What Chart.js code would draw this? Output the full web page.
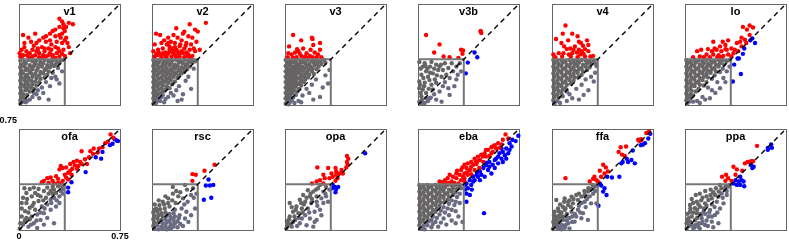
<!DOCTYPE html>
<html><head><meta charset="utf-8">
<script src="https://cdn.jsdelivr.net/npm/chart.js@4.4.1/dist/chart.umd.min.js"></script>
<style>
html,body{margin:0;padding:0;background:#fff;width:789px;height:241px;overflow:hidden;}
#wrap{position:relative;width:789px;height:241px;}
canvas{position:absolute;}
.ttl{position:absolute;width:101px;text-align:center;font:bold 11px "Liberation Sans",Arial,sans-serif;line-height:13px;color:#000;}
</style></head><body><div id="wrap"></div>
<script>
// ---- data ----
const AX_MAX = 0.75;
const THRESH = 0.34;
const X_TICK_VALUES = [0, 0.75];
const X_TICK_LABELS = ['0', '0.75'];
const Y_TICK_VALUES = [0.75];
const Y_TICK_LABELS = ['0.75'];
const TICK_PANEL = 'ofa';
const PANEL_NAMES = ['v1','v2','v3','v3b','v4','lo','ofa','rsc','opa','eba','ffa','ppa'];

const v1Red = [[.30,.64],[.32,.62],[.37,.61],[.40,.60],[.30,.58],[.33,.57],[.34,.55],[.32,.53],[.30,.52],[.25,.55],[.23,.53],[.27,.51],[.20,.51],[.18,.50],[.15,.48],[.12,.53],[.07,.50],[.03,.52],[.04,.46],[.09,.47],[.13,.46],[.17,.43],[.20,.47],[.23,.48],[.24,.45],[.22,.42],[.27,.43],[.32,.46],[.34,.48],[.35,.50],[.37,.43],[.38,.385],[.33,.41],[.30,.40],[.28,.385],[.25,.37],[.23,.385],[.19,.40],[.15,.385],[.13,.40],[.10,.41],[.08,.385],[.055,.40],[.03,.37],[.02,.41],[.01,.36],[.07,.36],[.10,.36],[.15,.355],[.20,.36],[.25,.355],[.30,.36],[.34,.365],[.04,.43],[.14,.42],[.28,.47],[.18,.37],[.005,.385],[.08,.35],[.12,.37],[.17,.35],[.22,.37],[.27,.35],[.32,.38],[.06,.37],[.14,.40],[.19,.42],[.24,.41],[.29,.42],[.11,.44],[.02,.35],[.36,.46],[.31,.50],[.33,.60],[.35,.58],[.27,.56]];
const v1Blue = [];
const v1Gray = [[.01,.33],[.04,.32],[.07,.335],[.10,.325],[.13,.33],[.16,.32],[.19,.335],[.22,.325],[.25,.33],[.28,.32],[.31,.33],[.33,.335],[.02,.30],[.05,.31],[.08,.295],[.12,.305],[.15,.30],[.18,.31],[.21,.295],[.24,.305],[.27,.30],[.30,.31],[.01,.28],[.04,.285],[.06,.27],[.09,.28],[.11,.29],[.14,.275],[.17,.285],[.20,.27],[.23,.28],[.26,.29],[.29,.275],[.02,.255],[.05,.26],[.08,.25],[.10,.265],[.13,.255],[.16,.245],[.19,.26],[.22,.25],[.25,.24],[.01,.23],[.03,.235],[.06,.225],[.09,.235],[.12,.23],[.15,.22],[.18,.235],[.21,.225],[.02,.205],[.05,.21],[.07,.20],[.10,.21],[.13,.20],[.16,.195],[.19,.205],[.01,.18],[.04,.185],[.06,.175],[.09,.18],[.12,.175],[.15,.17],[.02,.155],[.05,.16],[.07,.15],[.10,.155],[.13,.145],[.01,.13],[.04,.135],[.06,.125],[.09,.13],[.11,.12],[.02,.105],[.05,.11],[.08,.10],[.01,.085],[.03,.08],[.06,.075],[.02,.06],[.04,.05],[.01,.035],[.03,.025],[.01,.01],[.27,.21],[.30,.16],[.28,.19],[.23,.14],[.18,.09],[.22,.04],[.15,.05],[.13,.08],[.10,.06],[.08,.04],[.17,.13],[.32,.25],[.20,.17],[.24,.20],[.14,.11],[.11,.09],[.06,.03],[.05,.02]];

const v2Red = [[.40,.61],[.28,.60],[.18,.57],[.24,.545],[.32,.56],[.34,.545],[.16,.52],[.23,.53],[.03,.53],[.06,.52],[.12,.50],[.14,.47],[.09,.48],[.19,.50],[.22,.48],[.27,.51],[.30,.50],[.33,.47],[.29,.45],[.255,.46],[.02,.45],[.07,.46],[.11,.45],[.17,.46],[.205,.435],[.24,.42],[.28,.41],[.32,.40],[.355,.41],[.01,.40],[.045,.41],[.08,.42],[.13,.41],[.155,.42],[.19,.40],[.23,.385],[.27,.375],[.30,.365],[.02,.36],[.06,.375],[.09,.375],[.12,.385],[.145,.36],[.17,.375],[.205,.36],[.24,.355],[.28,.355],[.18,.355],[.105,.355],[.07,.355],[.155,.39],[.18,.41],[.13,.435],[.08,.385],[.22,.40],[.255,.39],[.04,.37],[.11,.37],[.16,.40],[.20,.38],[.26,.365],[.14,.40],[.10,.39],[.05,.39],[.17,.43],[.21,.45],[.12,.46],[.03,.38],[.25,.44],[.31,.42]];
const v2Blue = [];
const v2Gray = [[.01,.335],[.03,.33],[.06,.335],[.09,.325],[.12,.335],[.15,.33],[.18,.335],[.21,.325],[.24,.335],[.27,.33],[.30,.335],[.32,.325],[.02,.31],[.05,.315],[.08,.305],[.11,.315],[.14,.31],[.17,.30],[.20,.315],[.23,.31],[.26,.305],[.29,.315],[.01,.29],[.04,.295],[.07,.285],[.10,.29],[.13,.295],[.16,.285],[.19,.29],[.22,.28],[.25,.29],[.28,.285],[.02,.27],[.05,.275],[.08,.265],[.11,.27],[.14,.265],[.17,.27],[.20,.26],[.23,.27],[.26,.265],[.01,.25],[.03,.255],[.06,.245],[.09,.25],[.12,.245],[.15,.25],[.18,.24],[.21,.25],[.24,.245],[.02,.23],[.05,.235],[.08,.225],[.11,.23],[.14,.225],[.17,.23],[.20,.22],[.22,.235],[.01,.21],[.04,.215],[.07,.205],[.10,.21],[.13,.205],[.16,.21],[.19,.20],[.02,.19],[.05,.195],[.08,.185],[.11,.19],[.14,.185],[.17,.175],[.01,.17],[.03,.175],[.06,.165],[.09,.17],[.12,.165],[.15,.155],[.02,.15],[.05,.155],[.08,.145],[.11,.14],[.13,.125],[.01,.13],[.04,.135],[.07,.125],[.10,.115],[.02,.11],[.05,.115],[.08,.10],[.01,.09],[.03,.095],[.06,.085],[.08,.075],[.02,.07],[.04,.075],[.07,.06],[.01,.05],[.03,.055],[.05,.045],[.02,.03],[.04,.035],[.01,.01],[.03,.015],[.27,.21],[.29,.12],[.22,.04],[.19,.03],[.16,.07],[.14,.09],[.25,.18],[.20,.14],[.12,.06],[.18,.11],[.31,.27],[.09,.02],[.23,.08],[.06,.03],[.10,.045]];

const v3Red = [[.06,.52],[.12,.48],[.20,.50],[.205,.49],[.03,.435],[.09,.415],[.10,.40],[.135,.42],[.16,.385],[.19,.41],[.21,.445],[.26,.46],[.22,.39],[.26,.41],[.025,.385],[.05,.375],[.075,.39],[.12,.365],[.15,.36],[.185,.365],[.245,.375],[.27,.355],[.02,.355],[.085,.355],[.235,.355],[.11,.38],[.17,.35],[.205,.355],[.06,.35],[.14,.35]];
const v3Blue = [];
const v3Gray = [[.005,.335],[.025,.33],[.05,.335],[.08,.33],[.11,.335],[.14,.325],[.17,.335],[.20,.33],[.23,.335],[.26,.325],[.29,.335],[.015,.315],[.04,.31],[.065,.315],[.09,.305],[.12,.315],[.15,.31],[.18,.305],[.21,.315],[.24,.31],[.27,.305],[.30,.315],[.005,.29],[.03,.295],[.055,.285],[.08,.29],[.105,.295],[.13,.285],[.16,.29],[.19,.285],[.22,.295],[.25,.285],[.015,.27],[.04,.265],[.065,.27],[.09,.275],[.115,.265],[.145,.27],[.175,.265],[.205,.27],[.235,.265],[.005,.25],[.03,.245],[.055,.25],[.08,.255],[.105,.245],[.135,.25],[.165,.245],[.20,.25],[.015,.23],[.04,.225],[.065,.23],[.09,.235],[.12,.225],[.15,.23],[.18,.225],[.215,.23],[.005,.21],[.03,.205],[.055,.21],[.08,.215],[.11,.205],[.14,.21],[.17,.205],[.015,.19],[.04,.185],[.065,.19],[.09,.195],[.12,.185],[.15,.19],[.005,.17],[.03,.165],[.055,.17],[.08,.175],[.11,.165],[.14,.17],[.015,.15],[.04,.145],[.065,.15],[.09,.155],[.12,.145],[.005,.13],[.03,.125],[.055,.13],[.08,.135],[.105,.12],[.015,.11],[.04,.105],[.065,.11],[.09,.10],[.005,.09],[.03,.085],[.055,.09],[.08,.075],[.015,.07],[.04,.065],[.06,.055],[.005,.05],[.03,.045],[.05,.035],[.015,.03],[.035,.02],[.005,.01],[.025,.005],[.28,.13],[.32,.16],[.33,.26],[.26,.06],[.21,.04],[.18,.09],[.23,.19],[.16,.12],[.13,.07],[.10,.03],[.20,.15],[.30,.22],[.12,.02],[.07,.015]];

const v3bRed = [[.06,.52],[.16,.45],[.12,.39],[.19,.36],[.235,.355],[.30,.35],[.32,.41],[.335,.405],[.33,.38],[.465,.55],[.47,.535],[.465,.545]];
const v3bBlue = [[.42,.39],[.44,.355],[.37,.315],[.355,.235]];
const v3bGray = [[.01,.32],[.05,.31],[.09,.285],[.135,.30],[.16,.285],[.185,.26],[.225,.275],[.26,.25],[.295,.225],[.32,.25],[.285,.19],[.235,.20],[.21,.225],[.175,.21],[.11,.235],[.06,.25],[.025,.225],[.01,.175],[.05,.165],[.085,.185],[.135,.165],[.185,.14],[.225,.125],[.11,.115],[.06,.09],[.025,.065],[.085,.05],[.01,.025],[.05,.015],[.135,.04],[.175,.025],[.235,.075],[.01,.125],[.15,.26],[.20,.31],[.10,.32],[.285,.285],[.25,.31],[.31,.31],[.035,.285],[.075,.21],[.125,.19],[.16,.10],[.035,.115],[.10,.15],[.025,.015],[.075,.03],[.04,.20],[.02,.27],[.07,.27],[.12,.27],[.17,.30],[.045,.14],[.08,.12],[.02,.09],[.12,.08],[.06,.05],[.03,.04],[.14,.22],[.09,.24],[.20,.17],[.27,.14],[.015,.15],[.055,.29],[.095,.055]];

const v4Red = [[.10,.59],[.08,.53],[.15,.53],[.19,.51],[.03,.49],[.07,.46],[.12,.48],[.20,.47],[.215,.46],[.26,.48],[.27,.445],[.09,.435],[.11,.415],[.135,.42],[.16,.41],[.17,.435],[.20,.41],[.22,.40],[.245,.415],[.27,.40],[.01,.375],[.05,.385],[.085,.385],[.15,.385],[.185,.39],[.21,.375],[.235,.38],[.285,.36],[.305,.365],[.125,.375],[.025,.355],[.075,.36],[.245,.36],[.14,.36],[.19,.355],[.23,.44]];
const v4Blue = [];
const v4Gray = [[.01,.335],[.04,.33],[.07,.335],[.10,.325],[.13,.335],[.16,.33],[.19,.325],[.22,.335],[.25,.33],[.28,.325],[.31,.33],[.02,.31],[.05,.305],[.08,.315],[.11,.30],[.14,.31],[.17,.305],[.20,.315],[.23,.30],[.26,.31],[.29,.305],[.32,.31],[.01,.285],[.04,.28],[.07,.29],[.10,.275],[.13,.285],[.16,.28],[.19,.29],[.22,.275],[.25,.285],[.28,.28],[.02,.26],[.05,.255],[.08,.265],[.11,.25],[.14,.26],[.17,.255],[.20,.265],[.23,.25],[.26,.26],[.01,.235],[.04,.23],[.07,.24],[.10,.225],[.13,.235],[.16,.23],[.19,.24],[.22,.225],[.02,.21],[.05,.205],[.08,.215],[.11,.20],[.14,.21],[.17,.205],[.20,.21],[.01,.185],[.04,.18],[.07,.19],[.10,.175],[.13,.185],[.16,.18],[.02,.16],[.05,.155],[.08,.165],[.11,.15],[.14,.16],[.01,.135],[.04,.13],[.07,.14],[.10,.125],[.02,.11],[.05,.105],[.08,.115],[.11,.10],[.01,.085],[.04,.08],[.07,.09],[.02,.06],[.05,.055],[.08,.065],[.01,.035],[.04,.03],[.02,.01],[.06,.015],[.25,.19],[.31,.175],[.32,.24],[.27,.11],[.235,.075],[.20,.04],[.15,.05],[.11,.03],[.29,.21],[.18,.12],[.22,.15],[.13,.08],[.33,.29]];

const loRed = [[.43,.58],[.48,.59],[.46,.56],[.505,.575],[.48,.52],[.42,.50],[.21,.47],[.28,.47],[.32,.48],[.30,.445],[.26,.435],[.22,.42],[.09,.40],[.12,.41],[.17,.415],[.20,.40],[.235,.41],[.27,.40],[.31,.41],[.345,.42],[.385,.46],[.41,.47],[.445,.485],[.37,.41],[.395,.40],[.16,.375],[.21,.375],[.25,.37],[.285,.365],[.32,.375],[.345,.36],[.11,.36],[.06,.355],[.185,.355],[.30,.415],[.42,.435],[.455,.46],[.36,.385],[.24,.355],[.14,.355],[.27,.355]];
const loBlue = [[.50,.495],[.52,.46],[.485,.48],[.44,.42],[.43,.38],[.39,.345],[.40,.345],[.415,.23],[.355,.175],[.365,.30]];
const loGray = [[.01,.335],[.04,.325],[.07,.335],[.10,.33],[.13,.325],[.16,.335],[.19,.33],[.22,.325],[.25,.335],[.28,.33],[.31,.325],[.335,.335],[.02,.31],[.05,.305],[.08,.315],[.11,.30],[.14,.31],[.17,.305],[.20,.315],[.23,.30],[.26,.31],[.29,.30],[.01,.285],[.04,.28],[.07,.29],[.10,.275],[.13,.285],[.16,.28],[.19,.29],[.22,.275],[.25,.285],[.28,.27],[.02,.26],[.05,.255],[.08,.265],[.11,.25],[.14,.26],[.17,.255],[.20,.265],[.23,.25],[.26,.245],[.01,.235],[.04,.23],[.07,.24],[.10,.225],[.13,.235],[.16,.23],[.19,.24],[.22,.22],[.02,.21],[.05,.205],[.08,.215],[.11,.20],[.14,.21],[.17,.205],[.20,.195],[.01,.185],[.04,.18],[.07,.19],[.10,.175],[.13,.185],[.16,.17],[.02,.16],[.05,.155],[.08,.165],[.11,.15],[.14,.145],[.01,.135],[.04,.13],[.07,.14],[.10,.12],[.02,.11],[.05,.105],[.08,.10],[.01,.085],[.04,.08],[.06,.07],[.02,.06],[.04,.05],[.01,.035],[.03,.025],[.015,.01],[.26,.125],[.225,.09],[.185,.05],[.15,.04],[.11,.015],[.06,.025],[.285,.20],[.31,.25],[.33,.285],[.24,.17],[.20,.11],[.17,.13],[.13,.06],[.09,.03],[.30,.17]];

const ofaRed = [[.68,.71],[.70,.685],[.66,.655],[.62,.615],[.595,.605],[.555,.605],[.53,.585],[.55,.565],[.465,.585],[.52,.54],[.49,.525],[.455,.505],[.43,.515],[.405,.505],[.38,.49],[.415,.48],[.44,.475],[.465,.49],[.35,.465],[.325,.46],[.31,.475],[.30,.45],[.38,.44],[.395,.455],[.365,.425],[.34,.41],[.35,.39],[.275,.40],[.29,.38],[.235,.39],[.21,.385],[.185,.365],[.25,.365],[.29,.35],[.325,.365],[.17,.355],[.22,.35],[.26,.345],[.31,.345],[.365,.375],[.39,.41],[.43,.455],[.505,.49],[.585,.575],[.64,.645]];
const ofaBlue = [[.725,.665],[.71,.675],[.695,.64],[.675,.63],[.62,.58],[.61,.53],[.57,.54],[.495,.43],[.39,.355],[.365,.315],[.365,.28],[.735,.66]];
const ofaGray = [[.21,.315],[.25,.32],[.29,.325],[.325,.315],[.31,.29],[.275,.275],[.235,.29],[.185,.29],[.16,.25],[.12,.275],[.095,.25],[.055,.275],[.03,.24],[.02,.20],[.055,.20],[.11,.20],[.145,.215],[.20,.24],[.235,.225],[.26,.24],[.30,.25],[.325,.27],[.21,.19],[.17,.175],[.12,.15],[.08,.165],[.045,.14],[.02,.10],[.055,.09],[.095,.10],[.135,.115],[.185,.125],[.235,.15],[.275,.175],[.30,.20],[.16,.075],[.21,.09],[.26,.05],[.11,.05],[.03,.04],[.07,.025],[.005,.01],[.135,.015],[.185,.04],[.045,.075],[.335,.335],[.30,.335],[.11,.315],[.145,.305],[.08,.305],[.04,.31],[.07,.13],[.10,.18],[.14,.26],[.18,.22],[.22,.27],[.26,.30],[.02,.16],[.06,.23],[.09,.04],[.13,.07],[.16,.13],[.24,.20],[.28,.22],[.32,.30],[.19,.16],[.04,.06],[.08,.08],[.01,.05],[.25,.27]];

const rscRed = [[.465,.485],[.39,.44],[.30,.415],[.325,.41],[.30,.365]];
const rscBlue = [[.42,.375],[.40,.33],[.43,.33],[.455,.335],[.44,.24],[.385,.225]];
const rscGray = [[.245,.335],[.305,.31],[.33,.27],[.29,.26],[.265,.21],[.23,.235],[.195,.25],[.155,.27],[.12,.235],[.08,.21],[.175,.20],[.22,.16],[.255,.135],[.29,.11],[.245,.085],[.205,.11],[.17,.15],[.13,.175],[.095,.16],[.055,.185],[.02,.15],[.155,.32],[.01,.13],[.04,.135],[.07,.125],[.10,.13],[.13,.12],[.16,.125],[.02,.105],[.05,.11],[.08,.10],[.11,.105],[.14,.095],[.17,.10],[.20,.09],[.01,.08],[.04,.085],[.07,.075],[.10,.08],[.13,.07],[.16,.075],[.19,.065],[.02,.055],[.05,.06],[.08,.05],[.11,.055],[.14,.045],[.17,.05],[.21,.045],[.01,.03],[.04,.035],[.07,.025],[.10,.03],[.13,.02],[.16,.025],[.19,.02],[.02,.01],[.05,.005],[.08,.01],[.11,.005],[.14,.008],[.03,.16],[.06,.155],[.09,.19],[.12,.20],[.05,.22],[.02,.19],[.10,.25],[.18,.29],[.21,.28],[.26,.30],[.31,.24],[.24,.19],[.27,.06],[.23,.03],[.32,.16],[.15,.22]];

const opaRed = [[.46,.55],[.47,.53],[.46,.505],[.465,.485],[.455,.465],[.24,.465],[.32,.46],[.375,.46],[.42,.445],[.43,.42],[.345,.42],[.355,.395],[.285,.41],[.295,.385],[.33,.385],[.38,.41],[.39,.385],[.375,.365],[.26,.37],[.235,.36],[.285,.345],[.38,.435],[.405,.42],[.20,.345]];
const opaBlue = [[.595,.57],[.355,.335],[.37,.32],[.38,.305],[.375,.28],[.395,.32],[.35,.31]];
const opaGray = [[.305,.32],[.33,.30],[.285,.285],[.245,.31],[.21,.285],[.17,.295],[.135,.26],[.185,.25],[.235,.25],[.27,.235],[.305,.25],[.285,.20],[.235,.21],[.195,.20],[.15,.21],[.11,.225],[.085,.175],[.125,.16],[.17,.16],[.22,.135],[.26,.15],[.035,.20],[.06,.135],[.10,.125],[.15,.11],[.185,.085],[.235,.075],[.035,.10],[.075,.075],[.11,.05],[.025,.05],[.05,.025],[.01,.01],[.16,.035],[.21,.025],[.125,.085],[.32,.21],[.26,.335],[.30,.27],[.20,.23],[.14,.19],[.08,.15],[.05,.17],[.10,.09],[.13,.13],[.18,.13],[.06,.06],[.09,.03],[.03,.08],[.02,.03],[.07,.10],[.24,.18],[.16,.24],[.12,.20],[.27,.11],[.22,.06],[.045,.045],[.015,.065],[.19,.27],[.23,.30]];

const ebaRed = [[.65,.71],[.67,.68],[.63,.67],[.595,.645],[.57,.63],[.605,.61],[.545,.615],[.52,.595],[.555,.58],[.495,.57],[.47,.56],[.505,.545],[.53,.55],[.445,.545],[.42,.53],[.46,.52],[.485,.505],[.395,.505],[.37,.495],[.41,.485],[.435,.49],[.345,.485],[.36,.46],[.385,.445],[.42,.445],[.455,.46],[.32,.445],[.285,.42],[.31,.41],[.345,.42],[.37,.41],[.395,.415],[.26,.395],[.235,.41],[.22,.385],[.285,.385],[.32,.37],[.345,.385],[.20,.37],[.16,.36],[.25,.36],[.30,.345],[.345,.36],[.43,.505],[.505,.595],[.58,.605],[.62,.635],[.555,.62],[.48,.545],[.395,.47],[.335,.395],[.21,.345],[.545,.57],[.27,.35],[.23,.35],[.18,.355],[.29,.44],[.33,.465],[.365,.43],[.44,.51]];
const ebaBlue = [[.725,.66],[.68,.645],[.695,.62],[.655,.605],[.68,.595],[.63,.58],[.645,.555],[.605,.57],[.595,.545],[.62,.53],[.655,.53],[.57,.52],[.53,.505],[.555,.485],[.595,.495],[.505,.48],[.485,.46],[.52,.445],[.545,.42],[.46,.435],[.435,.41],[.47,.41],[.495,.395],[.41,.395],[.385,.37],[.42,.37],[.46,.37],[.36,.345],[.395,.335],[.37,.31],[.36,.27],[.385,.26],[.36,.21],[.49,.125],[.67,.57],[.62,.605],[.58,.53],[.53,.47],[.445,.395],[.41,.36],[.35,.335],[.63,.505],[.57,.46],[.70,.67],[.745,.70],[.40,.30],[.35,.30],[.44,.43],[.51,.50]];
const ebaGray = [[.01,.335],[.04,.33],[.07,.335],[.10,.325],[.13,.335],[.16,.33],[.19,.325],[.22,.335],[.25,.33],[.28,.335],[.31,.325],[.02,.31],[.05,.305],[.08,.315],[.11,.30],[.14,.31],[.17,.305],[.20,.315],[.23,.30],[.26,.31],[.29,.305],[.32,.31],[.01,.285],[.04,.28],[.07,.29],[.10,.275],[.13,.285],[.16,.28],[.19,.29],[.22,.275],[.25,.285],[.28,.28],[.31,.27],[.02,.26],[.05,.255],[.08,.265],[.11,.25],[.14,.26],[.17,.255],[.20,.265],[.23,.25],[.26,.26],[.29,.245],[.01,.235],[.04,.23],[.07,.24],[.10,.225],[.13,.235],[.16,.23],[.19,.24],[.22,.225],[.25,.22],[.28,.21],[.02,.21],[.05,.205],[.08,.215],[.11,.20],[.14,.21],[.17,.205],[.20,.21],[.23,.195],[.27,.185],[.31,.20],[.01,.185],[.04,.18],[.07,.19],[.10,.175],[.13,.185],[.16,.18],[.19,.17],[.22,.16],[.25,.15],[.02,.16],[.05,.155],[.08,.165],[.11,.15],[.14,.16],[.17,.145],[.20,.13],[.28,.14],[.01,.135],[.04,.13],[.07,.14],[.10,.125],[.13,.135],[.16,.115],[.23,.11],[.02,.11],[.05,.105],[.08,.115],[.11,.10],[.14,.09],[.19,.085],[.30,.10],[.01,.085],[.04,.08],[.07,.09],[.10,.075],[.13,.06],[.17,.055],[.25,.07],[.02,.06],[.05,.055],[.08,.065],[.11,.045],[.21,.04],[.28,.05],[.01,.035],[.04,.03],[.07,.035],[.10,.02],[.15,.025],[.02,.01],[.05,.005],[.33,.06]];

const ffaRed = [[.72,.73],[.70,.72],[.66,.675],[.65,.66],[.665,.67],[.51,.615],[.55,.62],[.495,.58],[.52,.56],[.54,.55],[.38,.485],[.40,.465],[.355,.44],[.39,.42],[.315,.395],[.305,.38],[.33,.37],[.34,.36],[.10,.385],[.365,.395],[.28,.36],[.415,.435],[.64,.67]];
const ffaBlue = [[.73,.715],[.715,.68],[.69,.645],[.66,.63],[.675,.635],[.60,.59],[.555,.53],[.525,.505],[.565,.505],[.59,.52],[.615,.495],[.515,.495],[.41,.395],[.445,.39],[.50,.395],[.365,.33],[.39,.31],[.38,.285],[.405,.26],[.345,.18],[.355,.345]];
const ffaGray = [[.317,.322],[.29,.305],[.267,.285],[.305,.27],[.243,.26],[.218,.248],[.18,.26],[.145,.248],[.193,.223],[.243,.21],[.29,.198],[.155,.198],[.12,.185],[.08,.173],[.045,.16],[.095,.15],[.145,.135],[.193,.15],[.23,.125],[.02,.135],[.057,.11],[.105,.10],[.02,.087],[.045,.062],[.082,.075],[.12,.05],[.02,.037],[.057,.025],[.095,.017],[.13,.012],[.007,.007],[.168,.062],[.267,.075],[.218,.087],[.33,.198],[.032,.223],[.094,.235],[.01,.06],[.035,.045],[.06,.05],[.075,.035],[.03,.02],[.045,.01],[.07,.005],[.10,.035],[.11,.07],[.08,.10],[.06,.085],[.04,.10],[.03,.075],[.015,.11],[.07,.13],[.05,.14],[.11,.12],[.13,.09],[.15,.10],[.17,.12],[.20,.18],[.22,.20],[.26,.23],[.28,.25],[.32,.29],[.335,.33],[.25,.17],[.21,.13],[.18,.10],[.15,.06],[.09,.21],[.13,.22],[.06,.19],[.10,.16],[.14,.17],[.30,.335],[.27,.31],[.24,.29],[.20,.27],[.16,.23],[.12,.21]];

const ppaRed = [[.535,.625],[.465,.505],[.49,.51],[.505,.51],[.36,.47],[.385,.45],[.425,.44],[.305,.41],[.275,.395],[.32,.385],[.345,.365],[.30,.365],[.375,.41],[.445,.495]];
const ppaBlue = [[.64,.635],[.615,.61],[.615,.595],[.645,.61],[.49,.485],[.51,.47],[.50,.46],[.41,.395],[.42,.37],[.40,.36],[.435,.36],[.385,.335],[.41,.335],[.44,.325],[.36,.345],[.375,.37]];
const ppaGray = [[.323,.322],[.298,.297],[.273,.272],[.31,.26],[.248,.248],[.223,.26],[.199,.235],[.174,.223],[.236,.21],[.286,.198],[.149,.198],[.112,.173],[.074,.161],[.037,.136],[.087,.124],[.137,.136],[.186,.149],[.223,.111],[.174,.099],[.124,.087],[.074,.074],[.025,.087],[.012,.05],[.05,.037],[.099,.025],[.149,.037],[.199,.062],[.248,.05],[.012,.012],[.062,.012],[.124,.05],[.037,.186],[.087,.21],[.33,.335],[.30,.32],[.27,.31],[.25,.285],[.21,.28],[.19,.26],[.16,.25],[.13,.24],[.12,.22],[.10,.19],[.06,.20],[.04,.16],[.02,.12],[.05,.10],[.06,.13],[.09,.15],[.11,.12],[.14,.16],[.16,.18],[.20,.19],[.22,.17],[.26,.16],[.24,.13],[.20,.10],[.16,.07],[.13,.06],[.10,.05],[.08,.04],[.04,.06],[.03,.03],[.07,.02],[.11,.01],[.17,.03],[.21,.02],[.28,.24],[.31,.29],[.02,.07],[.09,.09],[.12,.11],[.15,.12],[.18,.13],[.05,.23],[.08,.26],[.11,.27],[.15,.29],[.19,.30],[.23,.31],[.26,.335]];

const PANEL_DATA = {
  v1:[v1Red,v1Blue,v1Gray], v2:[v2Red,v2Blue,v2Gray], v3:[v3Red,v3Blue,v3Gray],
  v3b:[v3bRed,v3bBlue,v3bGray], v4:[v4Red,v4Blue,v4Gray], lo:[loRed,loBlue,loGray],
  ofa:[ofaRed,ofaBlue,ofaGray], rsc:[rscRed,rscBlue,rscGray], opa:[opaRed,opaBlue,opaGray],
  eba:[ebaRed,ebaBlue,ebaGray], ffa:[ffaRed,ffaBlue,ffaGray], ppa:[ppaRed,ppaBlue,ppaGray]
};

// ---- layout / style ----
const COL_LEFT = [19,152,285,418,552,685];
const ROW_TOP = [4,129];
const BOX = 101;
const PAD_L = 19, PAD_R = 12, PAD_B = 13;
const FRAME = '#666666';
const INNER = '#777777';
const RED = '#ff0000', BLUE = '#0000ff', GRAY_UP = '#676465', GRAY_DN = '#6a6a80';
const FONT = '"Liberation Sans", Arial, sans-serif';

const wrap = document.getElementById('wrap');
PANEL_NAMES.forEach((name, i) => {
  const col = i % 6, row = Math.floor(i / 6);
  const padT = row === 0 ? 4 : 14;
  const cw = PAD_L + BOX + PAD_R, ch = padT + BOX + PAD_B;
  const cv = document.createElement('canvas');
  cv.width = cw; cv.height = ch;
  cv.style.width = cw + 'px'; cv.style.height = ch + 'px';
  cv.style.left = (COL_LEFT[col] - PAD_L) + 'px';
  cv.style.top = (ROW_TOP[row] - padT) + 'px';
  wrap.appendChild(cv);

  const t = document.createElement('div');
  t.className = 'ttl'; t.textContent = name;
  t.style.left = COL_LEFT[col] + 'px';
  t.style.top = (ROW_TOP[row] + 1) + 'px';
  wrap.appendChild(t);

  const [red, blue, gray] = PANEL_DATA[name];
  const showTicks = name === TICK_PANEL;
  const tickFont = {family: FONT, size: 9, weight: 'bold'};
  const noGrid = {display: false, drawTicks: false, tickLength: 0};
  const hidden = (pos) => ({
    type: 'linear', position: pos, min: 0, max: AX_MAX,
    grid: noGrid, ticks: {display: false},
    border: {display: true, color: FRAME, width: 1},
    afterFit: s => { if (pos === 'top') s.height = 0; else s.width = 0; }
  });

  new Chart(cv, {
    type: 'scatter',
    data: {
      datasets: [
        {data: [[0,0],[AX_MAX,AX_MAX]], showLine: true, borderColor: '#000', borderWidth: 1.4, borderDash: [5,4], pointRadius: 0, fill: false},
        {data: [[0,THRESH],[THRESH,THRESH],[THRESH,0]], showLine: true, borderColor: INNER, borderWidth: 2, pointRadius: 0, fill: false},
        {data: red, backgroundColor: RED, pointRadius: 2.2, borderWidth: 0, clip: false},
        {data: blue, backgroundColor: BLUE, pointRadius: 2.2, borderWidth: 0, clip: false},
        {data: gray, backgroundColor: c => (c.raw && c.raw[1] >= c.raw[0]) ? GRAY_UP : GRAY_DN, pointRadius: 2.2, borderWidth: 0, clip: false}
      ]
    },
    options: {
      responsive: false, animation: false, events: [],
      layout: {padding: {left: 0, top: padT, right: PAD_R, bottom: 0}},
      plugins: {legend: {display: false}, tooltip: {enabled: false}, title: {display: false}},
      scales: {
        x: {
          type: 'linear', position: 'bottom', min: 0, max: AX_MAX,
          grid: noGrid, border: {display: true, color: FRAME, width: 1},
          ticks: {display: showTicks, padding: 1, font: tickFont, color: '#000', maxRotation: 0, autoSkip: false,
                  callback: (v, idx) => X_TICK_LABELS[idx]},
          afterBuildTicks: s => { s.ticks = X_TICK_VALUES.map(v => ({value: v})); },
          afterFit: s => { s.height = PAD_B; s.paddingLeft = 0; s.paddingRight = 0; }
        },
        y: {
          type: 'linear', position: 'left', min: 0, max: AX_MAX,
          grid: noGrid, border: {display: true, color: FRAME, width: 1},
          ticks: {display: showTicks, padding: 2, labelOffset: -8, font: tickFont, color: '#000', autoSkip: false,
                  callback: (v, idx) => Y_TICK_LABELS[idx]},
          afterBuildTicks: s => { s.ticks = Y_TICK_VALUES.map(v => ({value: v})); },
          afterFit: s => { s.width = PAD_L; s.paddingTop = 0; s.paddingBottom = 0; }
        },
        x2: hidden('top'),
        y2: hidden('right')
      }
    }
  });
});
</script>
</body></html>
